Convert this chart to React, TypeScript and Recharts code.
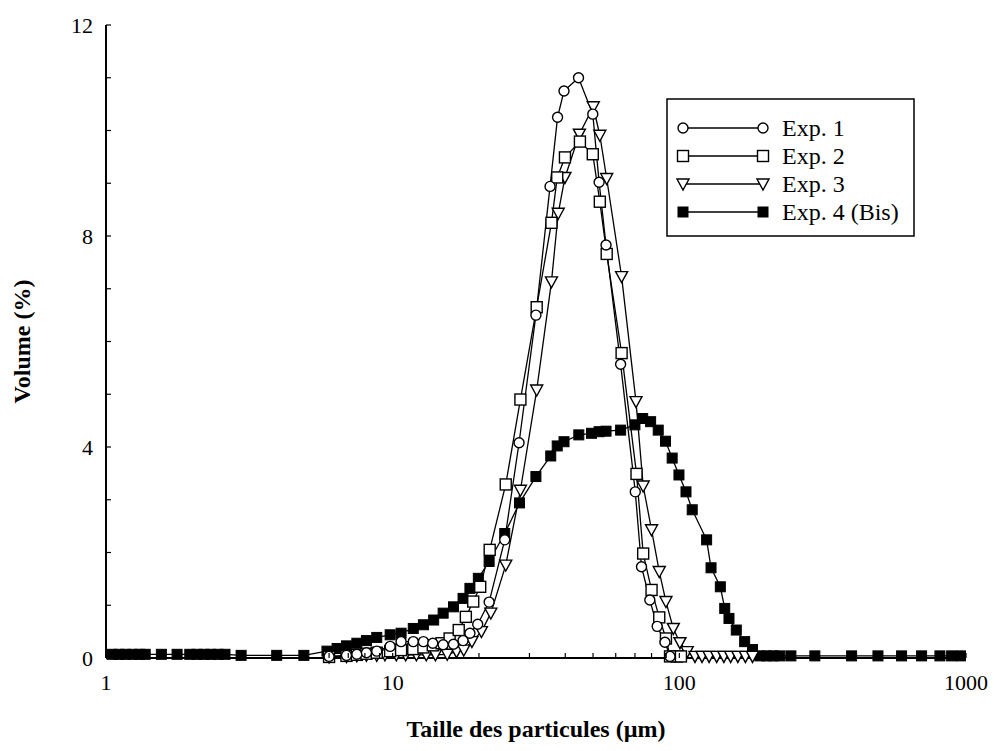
import React from 'react';
import { LineChart, Line, XAxis, YAxis, Legend, Label } from 'recharts';

// ---------- tick values ----------
const xTicks = [1, 2, 3, 4, 5, 6, 7, 8, 9, 10, 20, 30, 40, 50, 60, 70, 80, 90, 100, 200, 300, 400, 500, 600, 700, 800, 900, 1000];
const xMajor = [1, 10, 100, 1000];
const yTicks = [0, 1, 2, 3, 4, 5, 6, 7, 8, 9, 10, 11, 12];
const yMajor = [0, 4, 8, 12];

// ---------- series (x = particle size µm, y = volume %) ----------
const exp1 = [
  { x: 6.0, y: 0.03 }, { x: 6.9, y: 0.05 }, { x: 7.5, y: 0.07 }, { x: 8.1, y: 0.1 }, { x: 8.8, y: 0.13 },
  { x: 9.8, y: 0.22 }, { x: 10.7, y: 0.31 }, { x: 11.8, y: 0.31 }, { x: 12.8, y: 0.31 }, { x: 13.8, y: 0.28 },
  { x: 15.0, y: 0.25 }, { x: 16.3, y: 0.26 }, { x: 17.6, y: 0.33 }, { x: 18.6, y: 0.47 }, { x: 19.8, y: 0.64 },
  { x: 21.7, y: 1.06 }, { x: 24.6, y: 2.24 }, { x: 27.6, y: 4.08 }, { x: 31.6, y: 6.5 }, { x: 35.4, y: 8.94 },
  { x: 37.6, y: 10.25 }, { x: 39.6, y: 10.75 }, { x: 44.5, y: 11.0 }, { x: 49.9, y: 10.31 }, { x: 52.5, y: 9.02 },
  { x: 55.5, y: 7.83 }, { x: 62.4, y: 5.57 }, { x: 70.2, y: 3.15 }, { x: 73.8, y: 1.73 }, { x: 78.9, y: 1.1 },
  { x: 83.7, y: 0.6 }, { x: 89.1, y: 0.3 }, { x: 92.8, y: 0.03 },
];

const exp2 = [
  { x: 6.0, y: 0.02 }, { x: 6.9, y: 0.04 }, { x: 7.5, y: 0.06 }, { x: 8.1, y: 0.08 }, { x: 8.8, y: 0.1 },
  { x: 9.8, y: 0.13 }, { x: 10.7, y: 0.15 }, { x: 11.8, y: 0.17 }, { x: 12.8, y: 0.2 }, { x: 13.8, y: 0.24 },
  { x: 14.8, y: 0.28 }, { x: 15.8, y: 0.37 }, { x: 17.0, y: 0.53 }, { x: 18.0, y: 0.78 }, { x: 19.1, y: 1.07 },
  { x: 20.2, y: 1.35 }, { x: 21.8, y: 2.05 }, { x: 24.8, y: 3.29 }, { x: 27.9, y: 4.9 }, { x: 31.8, y: 6.65 },
  { x: 35.8, y: 8.25 }, { x: 37.5, y: 9.11 }, { x: 39.9, y: 9.49 }, { x: 45.0, y: 9.79 }, { x: 49.9, y: 9.55 },
  { x: 52.8, y: 8.65 }, { x: 55.8, y: 7.66 }, { x: 62.9, y: 5.78 }, { x: 70.9, y: 3.49 }, { x: 74.8, y: 1.98 },
  { x: 80.0, y: 1.29 }, { x: 85.1, y: 0.77 }, { x: 89.8, y: 0.37 }, { x: 92.8, y: 0.03 }, { x: 97.9, y: 0.03 },
  { x: 101.3, y: 0.03 },
];

const exp3 = [
  { x: 6.0, y: 0.02 }, { x: 6.9, y: 0.03 }, { x: 7.5, y: 0.04 }, { x: 8.1, y: 0.05 }, { x: 8.8, y: 0.05 },
  { x: 9.4, y: 0.06 }, { x: 10.3, y: 0.06 }, { x: 11.1, y: 0.06 }, { x: 12.1, y: 0.06 }, { x: 13.1, y: 0.06 },
  { x: 14.1, y: 0.06 }, { x: 15.5, y: 0.07 }, { x: 16.7, y: 0.12 }, { x: 17.7, y: 0.15 }, { x: 18.9, y: 0.31 },
  { x: 20.4, y: 0.5 }, { x: 22.0, y: 0.85 }, { x: 24.8, y: 1.76 }, { x: 27.9, y: 3.18 }, { x: 31.8, y: 5.08 },
  { x: 35.8, y: 7.13 }, { x: 37.8, y: 8.43 }, { x: 39.9, y: 9.11 }, { x: 44.8, y: 9.93 }, { x: 50.1, y: 10.45 },
  { x: 52.8, y: 9.91 }, { x: 55.8, y: 9.09 }, { x: 62.9, y: 7.23 }, { x: 70.6, y: 4.86 }, { x: 74.8, y: 3.26 },
  { x: 80.0, y: 2.43 }, { x: 85.1, y: 1.64 }, { x: 89.8, y: 1.07 }, { x: 95.3, y: 0.56 }, { x: 100.5, y: 0.29 },
  { x: 106.5, y: 0.12 }, { x: 113.4, y: 0.03 }, { x: 120, y: 0.03 }, { x: 127, y: 0.03 }, { x: 135, y: 0.03 },
  { x: 143, y: 0.03 }, { x: 151, y: 0.03 }, { x: 160, y: 0.03 }, { x: 170, y: 0.03 }, { x: 180, y: 0.03 },
];

const exp4 = [
  { x: 1.05, y: 0.07 }, { x: 1.11, y: 0.07 }, { x: 1.17, y: 0.07 }, { x: 1.24, y: 0.07 }, { x: 1.31, y: 0.07 },
  { x: 1.37, y: 0.07 }, { x: 1.56, y: 0.07 }, { x: 1.77, y: 0.07 }, { x: 1.96, y: 0.07 }, { x: 2.08, y: 0.07 },
  { x: 2.2, y: 0.07 }, { x: 2.32, y: 0.07 }, { x: 2.46, y: 0.07 }, { x: 2.6, y: 0.07 }, { x: 2.96, y: 0.05 },
  { x: 3.94, y: 0.05 }, { x: 4.9, y: 0.05 }, { x: 5.9, y: 0.13 }, { x: 6.4, y: 0.18 },
  { x: 6.9, y: 0.23 }, { x: 7.5, y: 0.28 }, { x: 8.1, y: 0.33 }, { x: 8.8, y: 0.39 }, { x: 9.8, y: 0.44 },
  { x: 10.7, y: 0.47 }, { x: 11.8, y: 0.56 }, { x: 12.8, y: 0.63 }, { x: 13.9, y: 0.72 }, { x: 15.0, y: 0.85 },
  { x: 16.3, y: 0.97 }, { x: 17.6, y: 1.13 }, { x: 18.6, y: 1.32 }, { x: 19.9, y: 1.51 }, { x: 21.7, y: 1.83 },
  { x: 24.6, y: 2.36 }, { x: 27.7, y: 2.94 }, { x: 31.6, y: 3.44 }, { x: 35.6, y: 3.83 }, { x: 37.5, y: 4.02 },
  { x: 39.6, y: 4.1 }, { x: 44.6, y: 4.23 }, { x: 49.4, y: 4.26 }, { x: 52.5, y: 4.29 }, { x: 55.5, y: 4.3 },
  { x: 62.4, y: 4.32 }, { x: 70.0, y: 4.42 }, { x: 74.5, y: 4.54 }, { x: 79.4, y: 4.48 }, { x: 84.4, y: 4.32 },
  { x: 89.5, y: 4.11 }, { x: 94.4, y: 3.79 }, { x: 99.7, y: 3.47 }, { x: 105.5, y: 3.15 }, { x: 110.9, y: 2.81 },
  { x: 124.5, y: 2.24 }, { x: 129, y: 1.71 }, { x: 139, y: 1.35 }, { x: 144, y: 0.94 }, { x: 149, y: 0.75 },
  { x: 158, y: 0.53 }, { x: 169, y: 0.31 }, { x: 180, y: 0.16 }, { x: 191, y: 0.04 }, { x: 202, y: 0.04 },
  { x: 212, y: 0.04 }, { x: 224, y: 0.04 }, { x: 245, y: 0.04 }, { x: 297, y: 0.04 }, { x: 399, y: 0.04 },
  { x: 493, y: 0.04 }, { x: 596, y: 0.04 }, { x: 700, y: 0.04 }, { x: 811, y: 0.04 }, { x: 891, y: 0.04 },
  { x: 966, y: 0.04 },
];

const seriesNames = ['Exp. 1', 'Exp. 2', 'Exp. 3', 'Exp. 4 (Bis)'];
const seriesKinds = ['circle', 'square', 'triangle', 'filled'];

const FONT = '"Liberation Serif", "Times New Roman", serif';

function Marker({ kind, cx, cy }: { kind: string; cx: number; cy: number }) {
  if (cx == null || cy == null || isNaN(cx) || isNaN(cy)) return null;
  const sw = 1.4;
  if (kind === 'circle') return <circle cx={cx} cy={cy} r={5} fill="#fff" stroke="#000" strokeWidth={sw} />;
  if (kind === 'square') return <rect x={cx - 5.5} y={cy - 5.5} width={11} height={11} fill="#fff" stroke="#000" strokeWidth={sw} />;
  if (kind === 'triangle')
    return (
      <polygon
        points={`${cx - 6},${cy - 5} ${cx + 6},${cy - 5} ${cx},${cy + 6}`}
        fill="#fff"
        stroke="#000"
        strokeWidth={sw}
        strokeLinejoin="miter"
      />
    );
  return <rect x={cx - 5} y={cy - 5} width={10} height={10} fill="#000" stroke="#000" strokeWidth={1} />;
}

const makeDot = (kind: string) => (p: any) => <Marker key={`${kind}-${p.index}`} kind={kind} cx={p.cx} cy={p.cy} />;

function XTick(props: any) {
  const { x, y, payload } = props;
  const v = payload.value;
  const major = xMajor.includes(v);
  return (
    <g>
      <line x1={x} y1={y} x2={x} y2={y - 5} stroke="#000" strokeWidth={1.2} />
      {major && (
        <text x={x} y={y + 32} textAnchor="middle" fontSize={22} fontFamily={FONT} fill="#000">
          {v}
        </text>
      )}
    </g>
  );
}

function YTick(props: any) {
  const { x, y, payload } = props;
  const v = payload.value;
  const major = yMajor.includes(v);
  return (
    <g>
      <line x1={x} y1={y} x2={x + 5} y2={y} stroke="#000" strokeWidth={1.2} />
      {major && (
        <text x={x - 13} y={y + 7.5} textAnchor="end" fontSize={22} fontFamily={FONT} fill="#000">
          {v}
        </text>
      )}
    </g>
  );
}

function LegendBox() {
  const rowH = 28;
  return (
    <svg width={250} height={140} style={{ display: 'block' }}>
      <rect x={1} y={1} width={247} height={137} fill="#fff" stroke="#000" strokeWidth={1.5} />
      {seriesNames.map((name, i) => {
        const cy = 30 + i * rowH;
        return (
          <g key={name}>
            <line x1={17} y1={cy} x2={97} y2={cy} stroke="#000" strokeWidth={1.3} />
            <Marker kind={seriesKinds[i]} cx={17} cy={cy} />
            <Marker kind={seriesKinds[i]} cx={97} cy={cy} />
            <text x={116} y={cy + 8} fontSize={24} fontFamily={FONT} fill="#000">
              {name}
            </text>
          </g>
        );
      })}
    </svg>
  );
}

export default function App() {
  const seriesData = [exp1, exp2, exp3, exp4];
  const order = [3, 2, 1, 0];
  return (
    <div style={{ position: 'absolute', left: 0, top: 0, width: 994, height: 751, background: '#fff', fontFamily: FONT }}>
      <LineChart width={994} height={751} margin={{ top: 25, right: 28, bottom: 53, left: 0 }}>
        <XAxis
          xAxisId={0}
          type="number"
          dataKey="x"
          scale="log"
          domain={[1, 1000]}
          allowDataOverflow
          ticks={xTicks}
          interval={0}
          height={40}
          tickSize={0}
          tickMargin={0}
          tickLine={false}
          tick={<XTick />}
          axisLine={{ stroke: '#000', strokeWidth: 2 }}
        >
          <Label
            value="Taille des particules (µm)"
            position="bottom"
            offset={22}
            style={{ fontWeight: 'bold', fontSize: 24, fill: '#000', fontFamily: FONT }}
          />
        </XAxis>
        <XAxis
          xAxisId="top"
          orientation="top"
          type="number"
          scale="log"
          domain={[1, 1000]}
          allowDataOverflow
          height={0}
          tick={false}
          tickLine={false}
          axisLine={{ stroke: '#000', strokeWidth: 2 }}
        />
        <YAxis
          yAxisId={0}
          type="number"
          domain={[0, 12]}
          ticks={yTicks}
          interval={0}
          width={106}
          tickSize={0}
          tickMargin={0}
          tickLine={false}
          tick={<YTick />}
          axisLine={{ stroke: '#000', strokeWidth: 2 }}
        >
          <Label
            value="Volume (%)"
            angle={-90}
            position="insideLeft"
            offset={21}
            style={{ fontWeight: 'bold', fontSize: 24, fill: '#000', fontFamily: FONT, textAnchor: 'middle' }}
          />
        </YAxis>
        <YAxis
          yAxisId="right"
          orientation="right"
          type="number"
          domain={[0, 12]}
          width={0}
          tick={false}
          tickLine={false}
          axisLine={{ stroke: '#000', strokeWidth: 2 }}
        />
        {order.map((i) => (
          <Line
            key={seriesNames[i]}
            name={seriesNames[i]}
            data={seriesData[i]}
            dataKey="y"
            xAxisId={0}
            yAxisId={0}
            type="linear"
            stroke="#000"
            strokeWidth={1.3}
            dot={makeDot(seriesKinds[i])}
            activeDot={false}
            isAnimationActive={false}
          />
        ))}
        <Legend
          layout="horizontal"
          verticalAlign="middle"
          align="center"
          content={() => <LegendBox />}
          wrapperStyle={{ position: 'absolute', left: 666, top: 98, width: 250, height: 140 }}
        />
      </LineChart>
    </div>
  );
}
